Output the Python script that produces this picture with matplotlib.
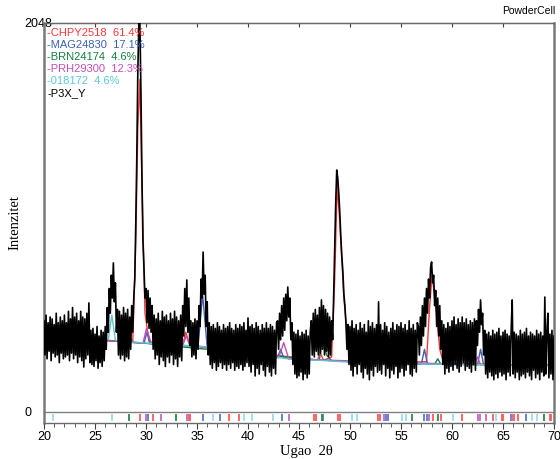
import numpy as np
import matplotlib
matplotlib.use('Agg')
import matplotlib.pyplot as plt
from matplotlib.ticker import MultipleLocator

plt.rcParams['font.family'] = ['Liberation Sans', 'DejaVu Sans']

# --- measured pattern, 20..70 deg, step 0.1 deg (one row per degree) ---
START, STEP = 20.0, 0.1
counts = [
    480, 300, 510, 280, 470, 320, 500, 270, 490, 310,   # 20
    460, 290, 520, 300, 470, 260, 500, 310, 480, 280,   # 21
    510, 290, 470, 300, 530, 270, 490, 310, 550, 280,   # 22
    500, 300, 520, 260, 480, 290, 530, 270, 500, 237,   # 23
    490, 280, 520, 300, 574, 260, 430, 250, 440, 240,   # 24
    410, 270, 450, 230, 400, 260, 430, 240, 420, 270,   # 25
    450, 330, 550, 420, 650, 520, 720, 600, 785, 580,   # 26
    680, 420, 540, 300, 530, 280, 510, 300, 550, 270,   # 27
    520, 290, 540, 280, 500, 330, 560, 420, 600, 700,   # 28
    1000, 1350, 1800, 2048, 2048, 1700, 1250, 900, 760, 600,  # 29
    650, 470, 640, 440, 600, 420, 560, 330, 510, 280,   # 30
    490, 300, 520, 250, 480, 290, 530, 270, 500, 240,   # 31
    510, 290, 480, 260, 520, 300, 490, 250, 530, 280,   # 32
    500, 240, 480, 290, 510, 270, 560, 400, 650, 450,   # 33
    695, 420, 600, 350, 480, 290, 470, 300, 490, 280,   # 34
    480, 330, 560, 450, 700, 600, 842, 620, 720, 450,   # 35
    580, 300, 470, 250, 450, 230, 460, 260, 440, 220,   # 36
    470, 240, 450, 260, 430, 230, 460, 250, 440, 220,   # 37
    450, 250, 470, 230, 440, 260, 430, 220, 460, 240,   # 38
    440, 230, 460, 250, 450, 220, 470, 240, 430, 260,   # 39
    495, 240, 450, 210, 460, 250, 440, 190, 470, 230,   # 40
    450, 200, 430, 250, 460, 220, 440, 190, 470, 240,   # 41
    440, 210, 460, 190, 450, 230, 430, 200, 470, 480,   # 42
    330, 520, 380, 560, 400, 600, 430, 620, 480, 658,   # 43
    500, 600, 380, 470, 250, 420, 200, 410, 180, 430,   # 44
    190, 400, 210, 420, 170, 410, 200, 430, 180, 400,   # 45
    200, 420, 480, 300, 520, 290, 540, 320, 510, 300,   # 46
    550, 310, 590, 330, 560, 300, 540, 320, 520, 290,   # 47
    500, 300, 480, 380, 620, 850, 1100, 1274, 1230, 1150,  # 48
    1050, 920, 820, 740, 620, 560, 470, 330, 460, 250,  # 49
    450, 220, 480, 190, 440, 240, 460, 200, 430, 250,   # 50
    470, 210, 440, 180, 460, 230, 420, 200, 480, 170,   # 51
    450, 220, 470, 190, 440, 240, 460, 210, 580, 220,   # 52
    460, 200, 430, 250, 470, 190, 450, 230, 420, 180,   # 53
    440, 220, 470, 200, 430, 240, 460, 180, 450, 210,   # 54
    470, 230, 440, 190, 460, 220, 430, 250, 480, 200,   # 55
    440, 190, 460, 230, 430, 210, 470, 450, 300, 500,   # 56
    350, 560, 400, 600, 450, 650, 520, 700, 600, 760,   # 57
    790, 680, 720, 560, 640, 450, 600, 400, 560, 330,   # 58
    480, 250, 460, 200, 440, 230, 470, 210, 450, 240,   # 59
    480, 220, 500, 250, 460, 230, 490, 210, 470, 240,   # 60
    500, 260, 470, 220, 490, 240, 460, 230, 480, 210,   # 61
    470, 250, 490, 220, 480, 350, 540, 420, 590, 460,   # 62
    520, 300, 430, 200, 410, 180, 420, 210, 400, 190,   # 63
    430, 170, 410, 200, 420, 180, 440, 210, 400, 190,   # 64
    420, 200, 430, 170, 410, 210, 400, 190, 430, 590,   # 65
    200, 420, 180, 410, 210, 400, 170, 430, 190, 410,   # 66
    200, 420, 180, 440, 210, 400, 190, 420, 170, 410,   # 67
    220, 400, 180, 430, 200, 410, 170, 420, 210, 400,   # 68
    190, 605, 200, 420, 520, 180, 410, 200, 430, 170,   # 69
    400,                                                # 70
]

# --- calculated phase profiles (knots) ---
chpy_x = [20, 28.7, 29.0, 29.2, 29.4, 29.6, 29.9, 30.3, 33.6, 33.9, 34.3, 46.8, 47.1, 47.4,
          48.2, 48.5, 48.75, 49.0, 49.4, 49.9, 52.6, 52.8, 53.0, 57.5, 57.8, 58.05, 58.4,
          58.8, 59.2, 70]
chpy_y = [400, 368, 900, 1500, 1750, 1200, 520, 370, 352, 420, 352, 273, 310, 272,
          290, 700, 1200, 1000, 600, 300, 257, 290, 257, 265, 550, 720, 560,
          330, 255, 245]
mag_x = [20, 29.8, 30.1, 30.4, 35.1, 35.55, 36.0, 42.9, 43.2, 43.5, 53.3, 53.6, 53.9,
         57.0, 57.3, 57.6, 62.5, 62.8, 63.1, 70]
mag_y = [400, 362, 420, 361, 345, 620, 342, 287, 330, 284, 256, 300, 255,
         252, 330, 252, 249, 330, 249, 245]
brn_x = [20, 28.0, 28.35, 28.7, 47.0, 47.3, 47.7, 48.2, 58.3, 58.6, 58.9, 70]
brn_y = [400, 370, 400, 368, 273, 395, 300, 270, 252, 280, 252, 245]
prh_x = [20, 29.7, 30.05, 30.5, 33.6, 33.95, 34.3, 43.0, 43.5, 44.0, 62.2, 62.5, 62.8, 70]
prh_y = [400, 362, 440, 362, 352, 400, 350, 285, 365, 279, 249, 290, 249, 245]
p018_x = [20, 25, 26.3, 26.65, 27.0, 28, 30, 34, 36, 40, 42.2, 42.46, 42.7, 44, 47, 50,
          55, 60, 65, 70]
p018_y = [400, 385, 380, 510, 378, 370, 363, 350, 342, 310, 292, 380, 290, 279, 272, 262,
          255, 250, 248, 245]

# --- reflection positions (bottom strip) ---
chpy_refl = [29.43, 30.65, 34.2, 34.33, 38.17, 39.12, 46.46, 46.69, 48.81, 48.98, 52.74,
             52.91, 58.09, 58.91, 60.97, 64.05, 64.86, 64.99, 66.08, 66.48, 69.58, 69.72]
mag_refl = [30.2, 35.55, 37.29, 43.35, 47.38, 53.57, 53.7, 57.27, 57.5, 65.75, 67.23]
brn_refl = [28.35, 32.9, 47.29, 56.05, 58.58, 69.0]
prh_refl = [29.98, 31.45, 34.0, 44.0, 53.3, 57.76, 62.5, 62.76, 63.3, 65.92]
p018_refl = [20.85, 26.65, 36.53, 39.58, 40.37, 42.46, 50.22, 50.71, 55.14, 55.46, 60.06,
             64.27, 67.88, 68.37]

phase_names = ['CHPY2518', 'MAG24830', 'BRN24174', 'PRH29300', '018172']
phase_pct = ['61.4%', '17.1%', '4.6%', '12.3%', '4.6%']
phase_colors = ['#ff3838', '#3d5fb5', '#13803d', '#c24fb5', '#5ec6d6']
tick_colors = ['#ff5a5a', '#5a78c8', '#2a8a4a', '#c868c0', '#9adcea']

fig = plt.figure(figsize=(5.6, 4.59), dpi=100)
ax = fig.add_axes([44 / 560, 1 - 423 / 459, 510 / 560, 400 / 459])

two_theta = START + STEP * np.arange(len(counts))

curves = [(chpy_x, chpy_y), (mag_x, mag_y), (brn_x, brn_y), (prh_x, prh_y)]
for (cx, cy), col in zip(curves, phase_colors[:4]):
    ax.plot(cx, cy, color=col, lw=1.0, zorder=2)
ax.plot(p018_x, p018_y, color=phase_colors[4], lw=1.0, zorder=2)

ax.plot(two_theta, counts, color='black', lw=1.2, zorder=3)

# reflection markers under the zero line
refls = [chpy_refl, mag_refl, brn_refl, prh_refl, p018_refl]
for pos, col in zip(refls, tick_colors):
    ax.vlines(pos, -47, -10, color=col, lw=1.3, zorder=2)

ax.axhline(0, color='#808080', lw=1.0, zorder=1)

ax.set_xlim(20, 70)
ax.set_ylim(-58, 2048)

ax.xaxis.set_major_locator(MultipleLocator(5))
ax.xaxis.set_minor_locator(MultipleLocator(1))
ax.tick_params(axis='x', which='both', direction='out', colors='#404040',
               labelcolor='black', labelsize=9, pad=2)
ax.tick_params(axis='x', which='major', length=4)
ax.tick_params(axis='x', which='minor', length=3)

ax.set_yticks([0, 2048])
ax.set_yticklabels(['0', '2048'])
ax.tick_params(axis='y', length=0, pad=14, labelsize=9)
for lbl in ax.get_yticklabels():
    lbl.set_horizontalalignment('left')

top = ax.secondary_xaxis('top')
top.set_xticks(np.arange(20, 71, 5))
top.tick_params(direction='in', length=3, labeltop=False, colors='#404040')

for side in ['left', 'right']:
    ax.spines[side].set_color('#7a7a7a')
    ax.spines[side].set_linewidth(1.8)
for side in ['top', 'bottom']:
    ax.spines[side].set_color('#6a6a6a')
    ax.spines[side].set_linewidth(1.0)
top.spines['top'].set_color('#6a6a6a')

serif = ['Liberation Serif', 'DejaVu Serif']
ax.set_xlabel('Ugao  2θ', family=serif, fontsize=10.5)
ax.xaxis.label.set_verticalalignment('center')
ax.xaxis.set_label_coords(0.515, -29 / 400)
ax.set_ylabel('Intenzitet', family=serif, fontsize=10.5)
ax.yaxis.label.set_verticalalignment('center')
ax.yaxis.set_label_coords(-29 / 510, 0.5)

# legend block
for i, (name, pct, col) in enumerate(zip(phase_names, phase_pct, phase_colors)):
    ax.text(0.006, 1 - (10 + 11.9 * i) / 400, f'-{name}  {pct}', transform=ax.transAxes,
            color=col, fontsize=8, ha='left', va='center')
ax.text(0.006, 1 - 70 / 400, '-P3X_Y', transform=ax.transAxes, color='black',
        fontsize=8, ha='left', va='center')

fig.text(555 / 560, 1 - 11 / 459, 'PowderCell', fontsize=7.5, ha='right', va='center')

fig.savefig('out.png', dpi=100)
